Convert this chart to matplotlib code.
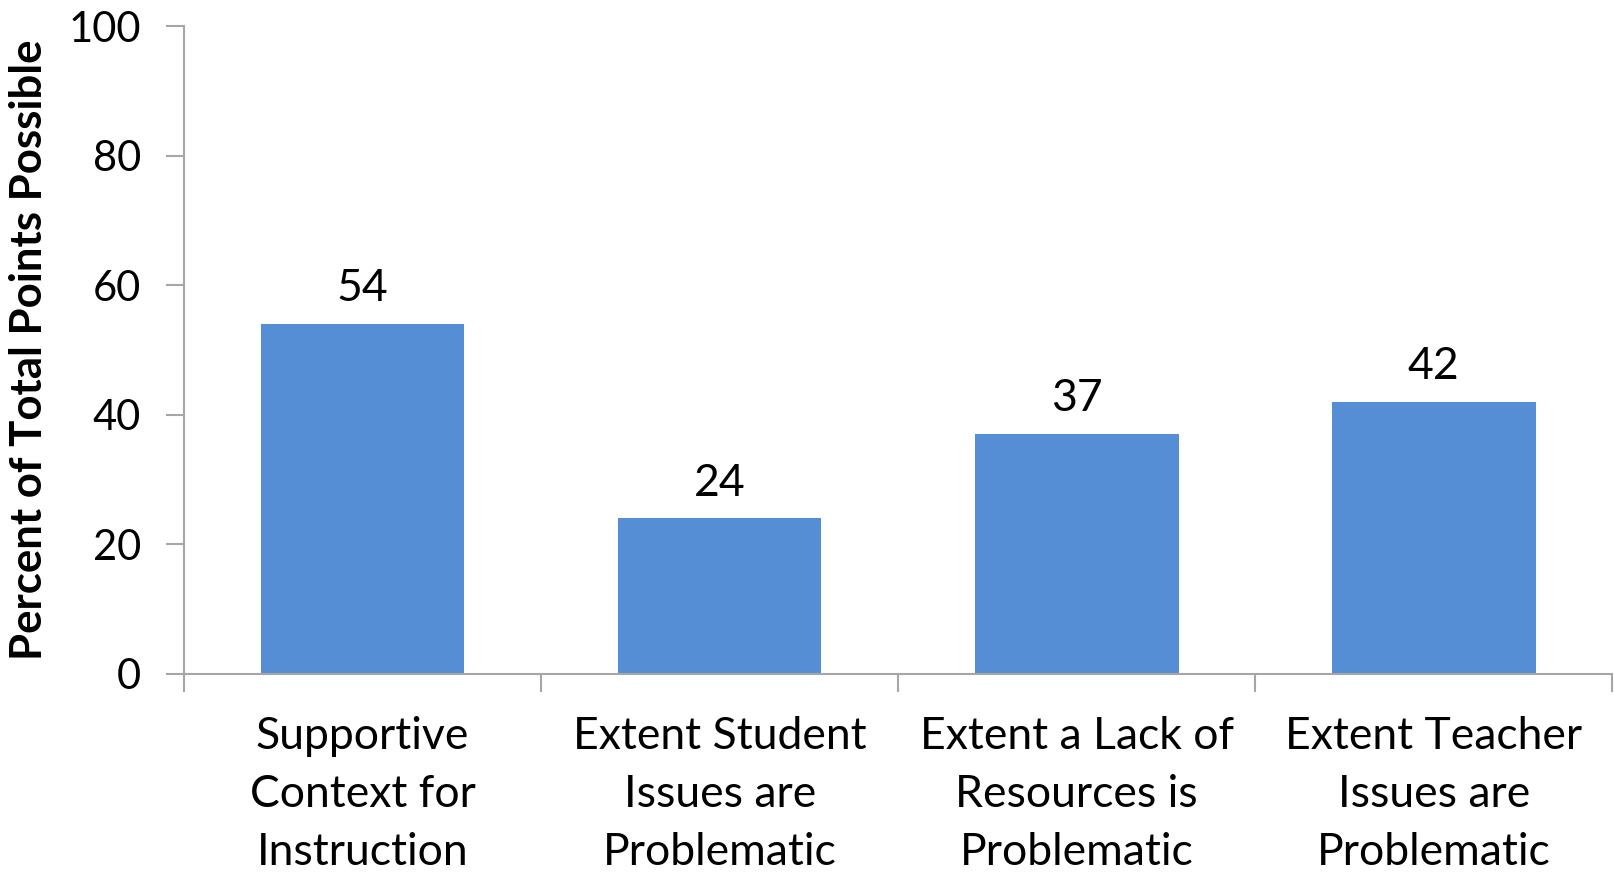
import matplotlib.pyplot as plt

categories = ['Supportive\nContext for\nInstruction',
              'Extent Student\nIssues are\nProblematic',
              'Extent a Lack of\nResources is\nProblematic',
              'Extent Teacher\nIssues are\nProblematic']
values = [54, 24, 37, 42]
yticks = [0, 20, 40, 60, 80, 100]

plt.rcParams['font.family'] = ['Lato', 'DejaVu Sans']
axis_grey = '#a6a6a6'
bar_blue = '#558ed5'

fig = plt.figure(figsize=(16.14, 8.73), dpi=100)
ax = fig.add_axes([0.114, 0.228, 0.885, 0.742])

xs = range(len(values))
bars = ax.bar(xs, values, width=0.57, color=bar_blue, zorder=2)
for x, v in zip(xs, values):
    ax.text(x, v + 2.3, str(v), ha='center', va='bottom', fontsize=32)

ax.set_xlim(-0.5, len(values) - 0.5)
ax.set_ylim(0, 100)
ax.set_yticks(yticks)
ax.set_yticklabels([str(t) for t in yticks], fontsize=30)

# category labels between boundary ticks
ax.set_xticks([i - 0.5 for i in range(len(values) + 1)])
ax.set_xticklabels([])
ax.set_xticks(list(xs), minor=True)
ax.set_xticklabels(categories, minor=True, fontsize=32, linespacing=1.52)
ax.tick_params(axis='x', which='minor', length=0, pad=30)
ax.tick_params(axis='x', which='major', length=13, width=1.5, color=axis_grey, direction='out')
ax.tick_params(axis='y', length=13, width=1.5, color=axis_grey, pad=18)

for s in ['top', 'right']:
    ax.spines[s].set_visible(False)
for s in ['left', 'bottom']:
    ax.spines[s].set_color(axis_grey)
    ax.spines[s].set_linewidth(1.5)

ax.set_ylabel('Percent of Total Points Possible', fontsize=31.5, fontweight='bold', labelpad=14)

fig.savefig('out.png', dpi=100)
